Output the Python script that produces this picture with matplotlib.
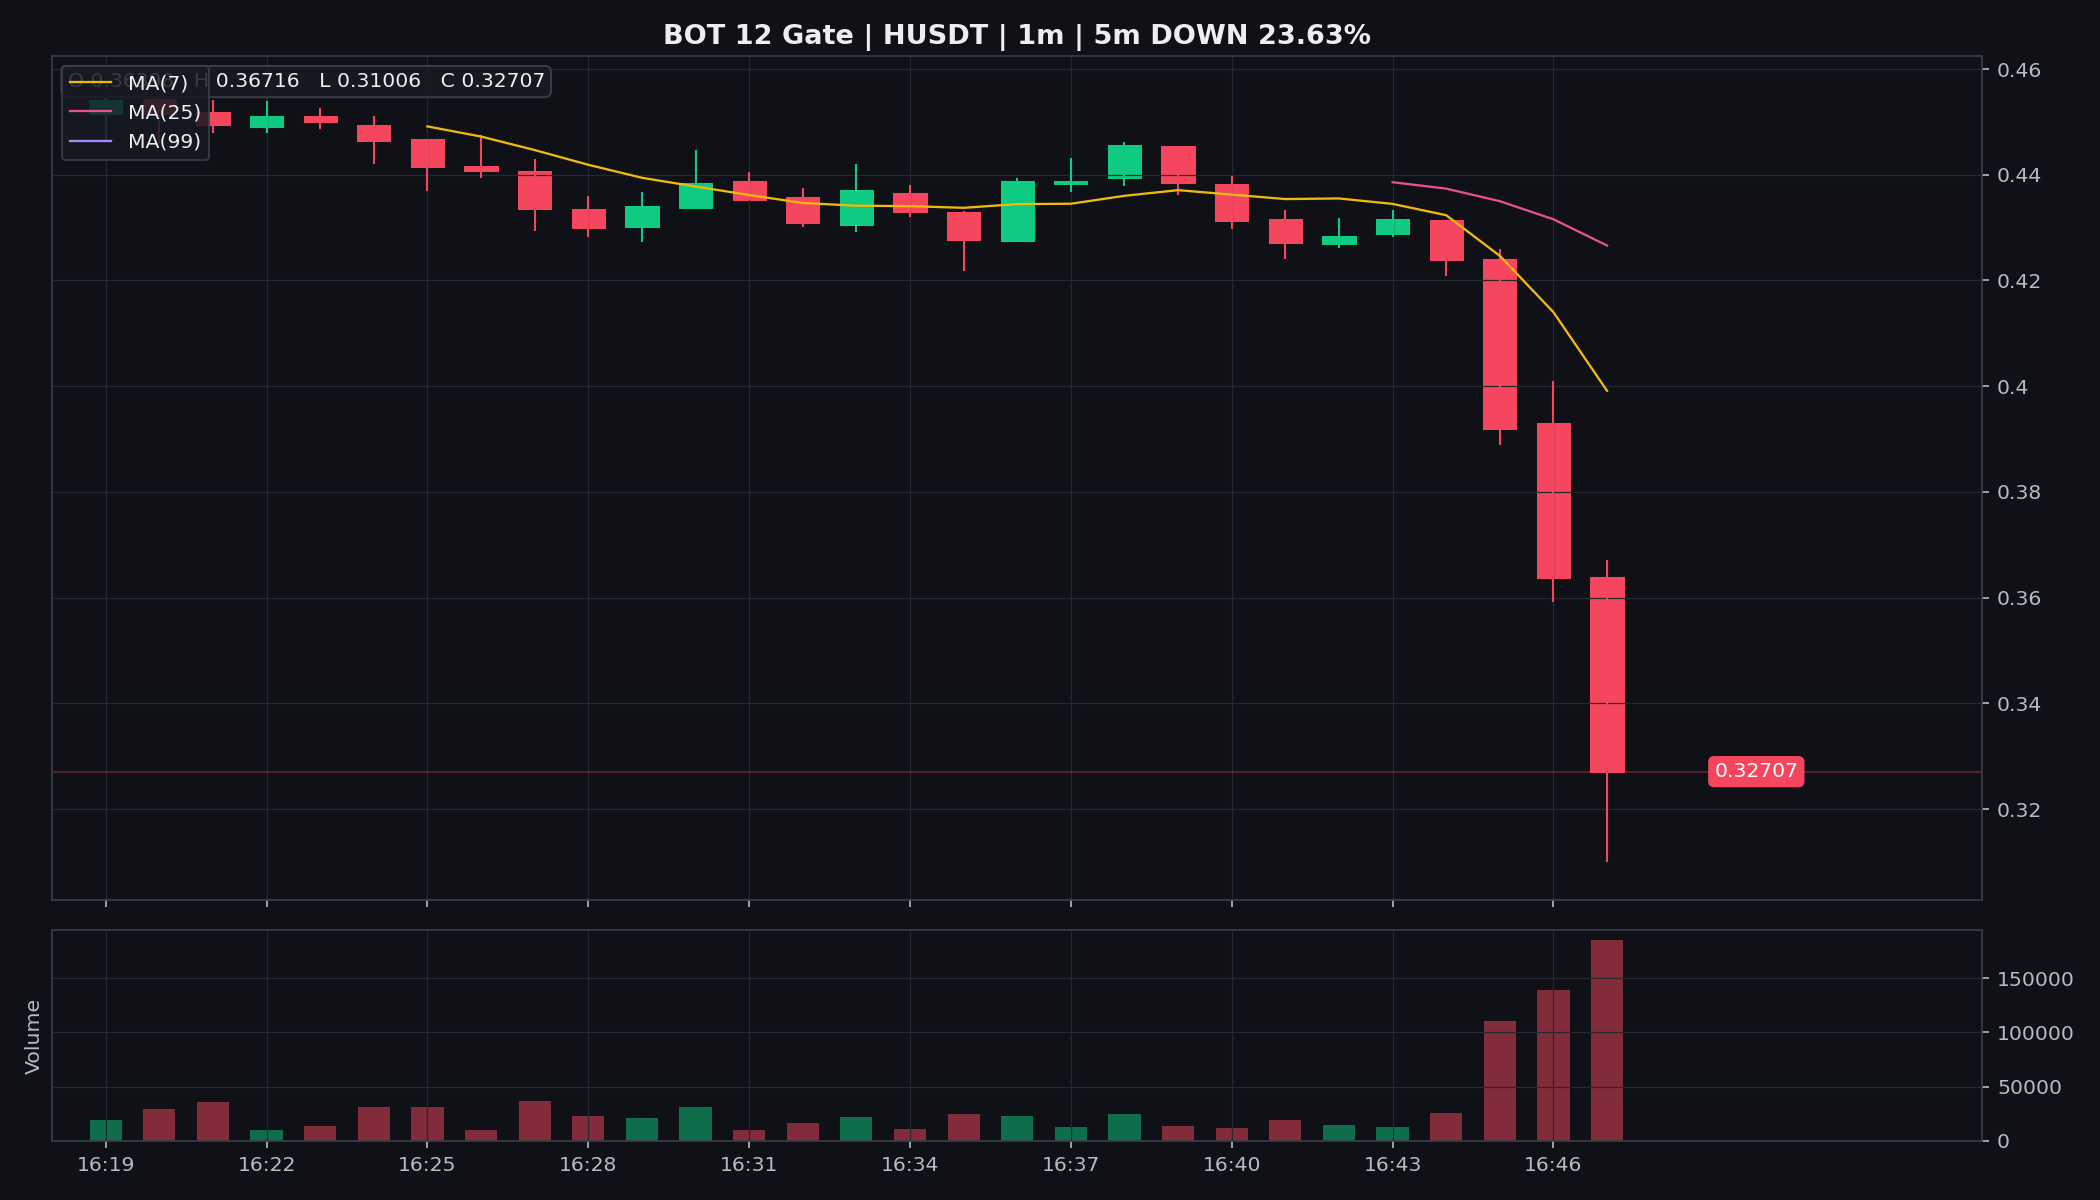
import numpy as np
import pandas as pd
import matplotlib
matplotlib.use("Agg")
import matplotlib.pyplot as plt
from matplotlib.ticker import FuncFormatter

# 1m candles, Gate HUSDT
times = ["16:19", "16:20", "16:21", "16:22", "16:23", "16:24", "16:25", "16:26",
         "16:27", "16:28", "16:29", "16:30", "16:31", "16:32", "16:33", "16:34",
         "16:35", "16:36", "16:37", "16:38", "16:39", "16:40", "16:41", "16:42",
         "16:43", "16:44", "16:45", "16:46", "16:47"]
opens = [0.4514, 0.4544, 0.4518, 0.4490, 0.4512, 0.4495, 0.4467, 0.4416,
         0.4408, 0.4336, 0.4301, 0.4337, 0.4389, 0.4357, 0.4305, 0.4365,
         0.4329, 0.4275, 0.4383, 0.4394, 0.4455, 0.4383, 0.4317, 0.4269,
         0.4288, 0.4314, 0.4240, 0.3930, 0.36398]
highs = [0.4545, 0.4552, 0.4542, 0.4539, 0.4527, 0.4512, 0.4467, 0.4476,
         0.4429, 0.4360, 0.4367, 0.4446, 0.4405, 0.4374, 0.4420, 0.4380,
         0.4331, 0.4394, 0.4431, 0.4461, 0.4455, 0.4398, 0.4334, 0.4319,
         0.4333, 0.4314, 0.4259, 0.4010, 0.36716]
lows = [0.4463, 0.4459, 0.4479, 0.4479, 0.4486, 0.4421, 0.4370, 0.4394,
        0.4294, 0.4282, 0.4273, 0.4337, 0.4352, 0.4301, 0.4292, 0.4320,
        0.4218, 0.4275, 0.4367, 0.4379, 0.4361, 0.4297, 0.4241, 0.4261,
        0.4282, 0.4208, 0.3889, 0.3591, 0.31006]
closes = [0.4541, 0.4514, 0.4494, 0.4512, 0.4500, 0.4464, 0.4415, 0.4407,
          0.4335, 0.4299, 0.4340, 0.4384, 0.4352, 0.4309, 0.4371, 0.4329,
          0.4277, 0.4389, 0.4389, 0.4457, 0.4384, 0.4312, 0.4270, 0.4285,
          0.4317, 0.4239, 0.3919, 0.3638, 0.32707]
volumes = [19400, 29600, 36300, 10200, 14200, 31700, 31700, 10200,
           37000, 23100, 21300, 31400, 10200, 16900, 22200, 11100,
           25000, 23100, 12900, 25000, 13900, 12000, 19400, 14800,
           12900, 26200, 110000, 138600, 185000]

ma_periods = [7, 25, 99]
ma_colors = ["#f0b90b", "#e8508f", "#a08cff"]

BG = "#0f1117"
UP = "#0ecb81"
DOWN = "#f6465d"
GRID = "#252830"
TEXT = "#b5bac4"
SPINE = "#3a3e48"
WHITE = "#eceef2"


def style_axis(ax):
    ax.set_facecolor(BG)
    for s in ax.spines.values():
        s.set_color(SPINE)
        s.set_linewidth(0.8)
    ax.tick_params(colors=TEXT, labelsize=9.8, labelcolor=TEXT)
    ax.grid(True, color=GRID, linewidth=0.6)
    ax.yaxis.tick_right()


def draw_candles(ax, x, o, h, l, c, width=0.62):
    colors = np.where(c >= o, UP, DOWN)
    ax.vlines(x, l, h, colors=colors, linewidth=1.0, zorder=2)
    ax.bar(x, np.abs(c - o), bottom=np.minimum(o, c), width=width,
           color=colors, edgecolor=colors, linewidth=0.5, zorder=1)
    return colors


if __name__ == "__main__":
    o = np.array(opens)
    h = np.array(highs)
    l = np.array(lows)
    c = np.array(closes)
    n = len(c)
    x = np.arange(n)

    fig = plt.figure(figsize=(14, 8), dpi=150, facecolor=BG)
    gs = fig.add_gridspec(2, 1, height_ratios=[4, 1], left=0.0248, right=0.944,
                          top=0.9533, bottom=0.0492, hspace=0.057)
    ax = fig.add_subplot(gs[0])
    ax_vol = fig.add_subplot(gs[1], sharex=ax)
    style_axis(ax)
    style_axis(ax_vol)

    colors = draw_candles(ax, x, o, h, l, c)

    s = pd.Series(c)
    for p, col in zip(ma_periods, ma_colors):
        ax.plot(x, s.rolling(p).mean(), color=col, linewidth=1.1, label=f"MA({p})")

    # last price line + tag
    ax.axhline(c[-1], color=DOWN, alpha=0.35, linewidth=0.8)
    ax.text(n + 1, c[-1], f"{c[-1]:.5f}", ha="left", va="center", color="white",
            fontsize=9.8, bbox=dict(boxstyle="round,pad=0.3", fc=DOWN, ec="none"))

    ax.text(0.008, 0.981,
            f"O {o[-1]:.5f}   H {h[-1]:.5f}   L {l[-1]:.5f}   C {c[-1]:.5f}",
            transform=ax.transAxes, ha="left", va="top", color=WHITE, fontsize=9.8,
            bbox=dict(boxstyle="round,pad=0.3", fc="#171a22", ec=SPINE, alpha=0.9))

    ax.legend(loc="upper left", fontsize=9.8, facecolor="#171a22",
              edgecolor=SPINE, framealpha=0.85, labelcolor=WHITE)

    ax.set_title("BOT 12 Gate | HUSDT | 1m | 5m DOWN 23.63%", color=WHITE,
                 fontsize=13, fontweight="bold")
    ax.yaxis.set_major_formatter(FuncFormatter(lambda v, _: f"{v:g}"))

    ax_vol.bar(x, volumes, width=0.6, color=colors, alpha=0.5)
    ax_vol.set_ylabel("Volume", color=TEXT, fontsize=9.8)
    ax_vol.yaxis.set_label_position("left")

    ax.set_xlim(-1, n + 6)
    ax_vol.set_xticks(x[::3])
    ax_vol.set_xticklabels(times[::3])
    ax.tick_params(axis="x", labelbottom=False)

    fig.savefig("out.png", dpi=150, facecolor=BG)
